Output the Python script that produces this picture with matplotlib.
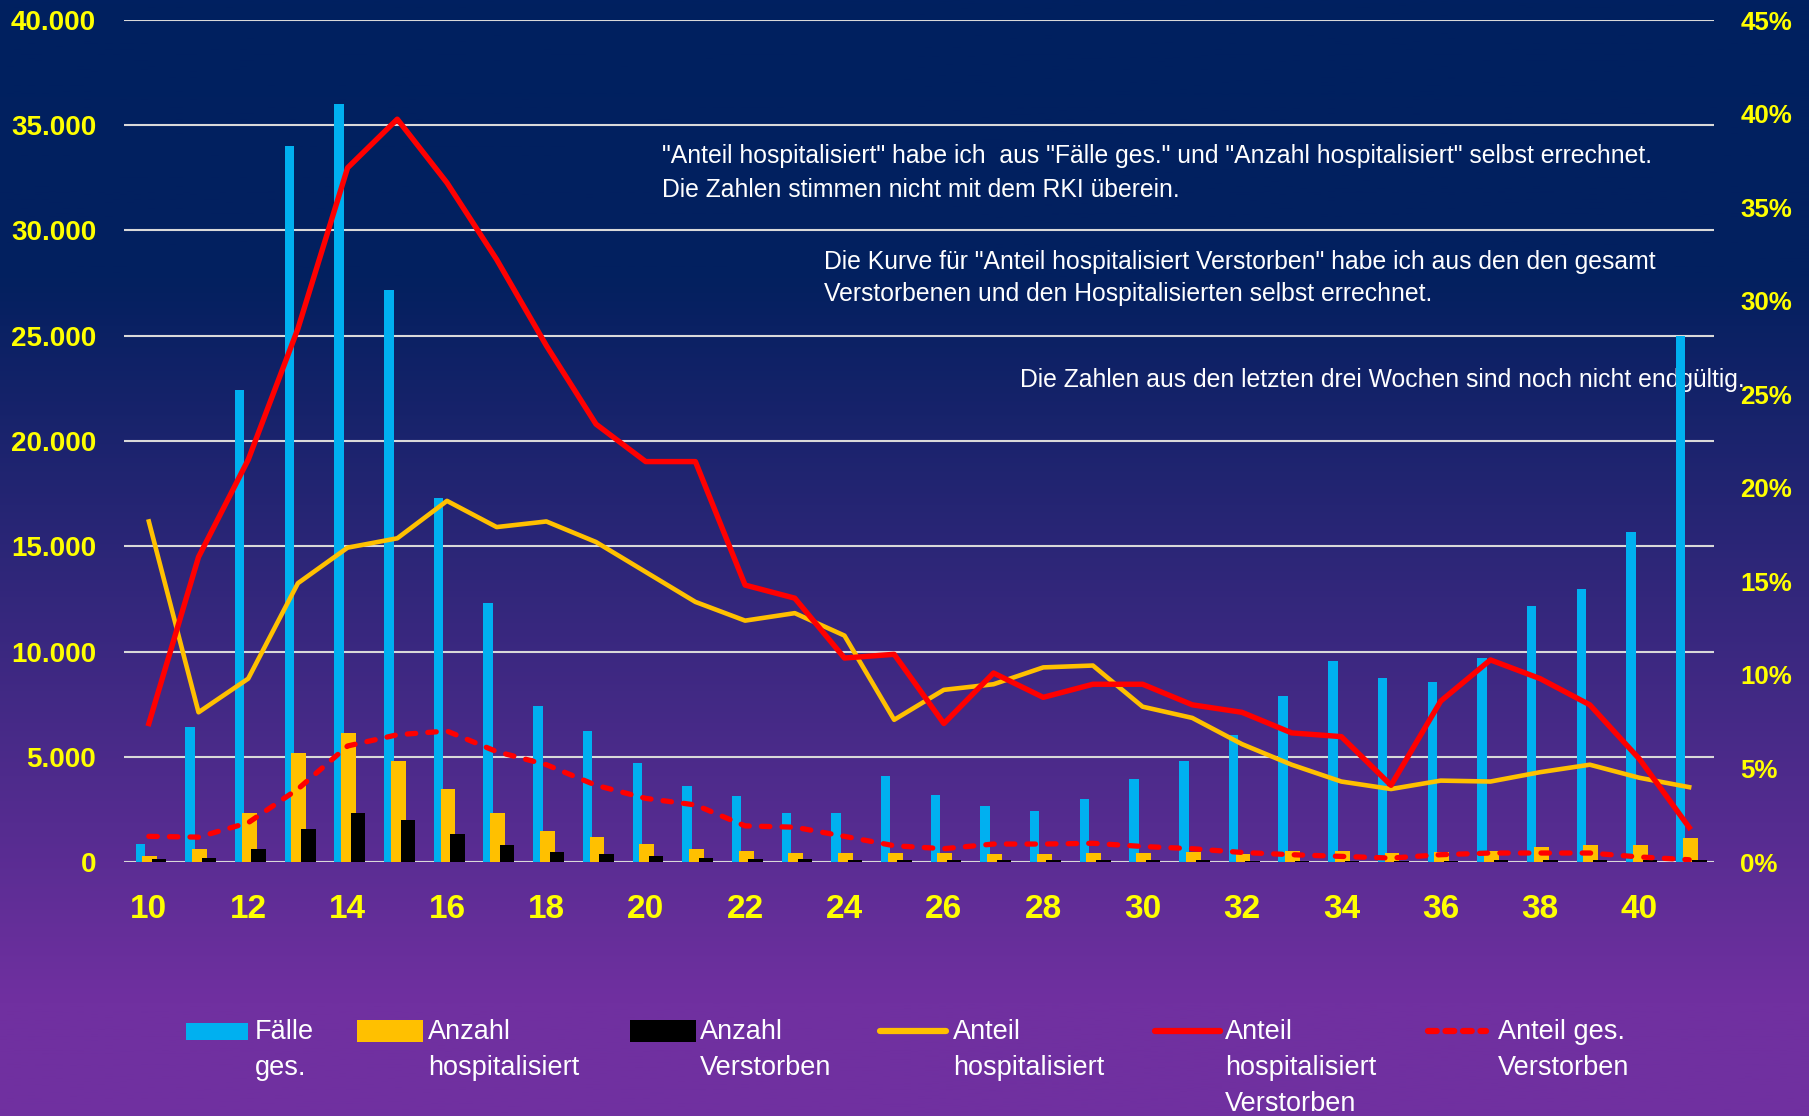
import numpy as np
import matplotlib
matplotlib.use("Agg")
import matplotlib.pyplot as plt
from matplotlib.ticker import FuncFormatter, MultipleLocator
from matplotlib.patches import Rectangle
from matplotlib.lines import Line2D
from matplotlib.colors import LinearSegmentedColormap

plt.rcParams['font.family'] = ['Liberation Sans', 'DejaVu Sans']

# Daten (Kalenderwochen)
wochen = [10, 11, 12, 13, 14, 15, 16, 17, 18, 19, 20, 21, 22, 23, 24, 25,
          26, 27, 28, 29, 30, 31, 32, 33, 34, 35, 36, 37, 38, 39, 40, 41]
faelle = [870, 6400, 22400, 34000, 36000, 27150, 17300, 12300, 7400, 6200, 4700, 3600,
          3150, 2350, 2320, 4070, 3170, 2670, 2410, 2980, 3930, 4800, 6010, 7900,
          9540, 8750, 8550, 9700, 12160, 12950, 15700, 25000]
hospitalisiert = [270, 630, 2320, 5200, 6150, 4800, 3450, 2320, 1470, 1180, 850, 630,
                  520, 430, 410, 430, 430, 380, 380, 430, 430, 470, 400, 520,
                  520, 450, 470, 540, 710, 790, 790, 1120]
verstorben = [140, 200, 600, 1560, 2350, 1990, 1320, 830, 490, 380, 270, 190,
              150, 130, 110, 100, 90, 80, 80, 90, 80, 80, 70, 70,
              70, 60, 70, 80, 90, 100, 100, 80]
anteil_hosp = [18.2, 8.0, 9.8, 14.9, 16.8, 17.3, 19.3, 17.9, 18.2, 17.1, 15.5, 13.9,
               12.9, 13.3, 12.1, 7.6, 9.2, 9.5, 10.4, 10.5, 8.3, 7.7, 6.3, 5.2,
               4.3, 3.9, 4.35, 4.3, 4.8, 5.2, 4.5, 4.0]
anteil_hosp_tot = [7.4, 16.3, 21.5, 28.5, 37.1, 39.7, 36.3, 32.2, 27.6, 23.4, 21.4, 21.4,
                   14.8, 14.1, 10.9, 11.1, 7.4, 10.1, 8.8, 9.5, 9.5, 8.4, 8.0, 6.9,
                   6.7, 4.1, 8.6, 10.8, 9.8, 8.4, 5.5, 1.85]
anteil_ges_tot = [1.37, 1.33, 2.1, 3.9, 6.2, 6.8, 7.0, 5.9, 5.2, 4.1, 3.4, 3.05,
                  1.93, 1.86, 1.37, 0.87, 0.71, 0.96, 0.96, 1.0, 0.83, 0.71, 0.51, 0.39,
                  0.3, 0.21, 0.39, 0.48, 0.48, 0.48, 0.27, 0.12]

BLAU = '#00B0F0'
GOLD = '#FFC000'
ROT = '#FF0000'
GELB = '#FFFF00'

W, H = 1809, 1116
fig = plt.figure(figsize=(W / 100, H / 100), dpi=100)


def px(x, y):
    # Pixel -> Figure-Koordinaten
    return x / W, 1 - y / H


# Hintergrund mit Farbverlauf (dunkelblau -> lila)
bg = fig.add_axes([0, 0, 1, 1], zorder=-2)
cmap = LinearSegmentedColormap.from_list(
    'verlauf', [(0.0, '#002060'), (0.25, '#03205F'), (0.9, '#7030A0'), (1.0, '#7030A0')])
bg.imshow(np.linspace(0, 1, 400).reshape(-1, 1), cmap=cmap, aspect='auto',
          extent=[0, 1, 0, 1], origin='upper')
bg.axis('off')

ax = fig.add_axes([124 / W, 1 - 862 / H, 1590 / W, 842 / H])
ax.patch.set_alpha(0)
x = np.array(wochen)

ax.bar(x - 0.17, faelle, width=0.19, color=BLAU, zorder=2)
ax.bar(x + 0.02, hospitalisiert, width=0.30, color=GOLD, zorder=3)
ax.bar(x + 0.21, verstorben, width=0.29, color='black', zorder=4)

ax.set_xlim(9.5, 41.5)
ax.set_ylim(0, 40000)
ax.yaxis.set_major_locator(MultipleLocator(5000))
ax.yaxis.set_major_formatter(FuncFormatter(lambda v, p: f"{int(v):,}".replace(",", ".")))
ax.set_xticks(wochen[::2])
ax.grid(axis='y', color='#D9D9D9', linewidth=1.5, zorder=1)
ax.set_axisbelow(True)
for s in ax.spines.values():
    s.set_visible(False)
ax.tick_params(axis='y', length=0, pad=20, labelsize=20, labelcolor=GELB)
ax.tick_params(axis='x', length=0, pad=23, labelsize=24, labelcolor=GELB)
for t in ax.get_xticklabels() + ax.get_yticklabels():
    t.set_fontweight('bold')

ax2 = ax.twinx()
ax2.patch.set_alpha(0)
ax2.plot(x, anteil_hosp, color=GOLD, lw=3.3, zorder=5)
ax2.plot(x, anteil_hosp_tot, color=ROT, lw=3.9, zorder=6)
ax2.plot(x, anteil_ges_tot, color=ROT, lw=3.8, dashes=(1.6, 2.3),
         dash_capstyle='round', zorder=6)
ax2.set_ylim(0, 45)
ax2.yaxis.set_major_locator(MultipleLocator(5))
ax2.yaxis.set_major_formatter(FuncFormatter(lambda v, p: f"{int(round(v))}%"))
for s in ax2.spines.values():
    s.set_visible(False)
ax2.tick_params(axis='y', length=0, pad=19, labelsize=18.6, labelcolor=GELB)
for t in ax2.get_yticklabels():
    t.set_fontweight('bold')

# Hinweistexte
hinweise = [
    (662, 163, '"Anteil hospitalisiert" habe ich  aus "Fälle ges." und "Anzahl hospitalisiert" selbst errechnet.'),
    (662, 197, 'Die Zahlen stimmen nicht mit dem RKI überein.'),
    (824, 269, 'Die Kurve für "Anteil hospitalisiert Verstorben" habe ich aus den den gesamt'),
    (824, 301, 'Verstorbenen und den Hospitalisierten selbst errechnet.'),
    (1020, 387, 'Die Zahlen aus den letzten drei Wochen sind noch nicht endgültig.'),
]
for hx, hy, txt in hinweise:
    fx, fy = px(hx, hy)
    fig.text(fx, fy, txt, color='white', fontsize=17.8, va='baseline', ha='left', zorder=-1)

# Legende (manuell, mehrzeilige Beschriftungen)
legende = [
    ('rect', BLAU, (186, 1023, 62, 17), 255, ['Fälle', 'ges.']),
    ('rect', GOLD, (357, 1020, 66, 22), 428, ['Anzahl', 'hospitalisiert']),
    ('rect', 'black', (630, 1020, 66, 22), 700, ['Anzahl', 'Verstorben']),
    ('line', GOLD, (880, 1031, 66, 0), 953, ['Anteil', 'hospitalisiert']),
    ('line', ROT, (1155, 1031, 65, 0), 1225, ['Anteil', 'hospitalisiert', 'Verstorben']),
    ('dash', ROT, (1428, 1031, 58, 0), 1498, ['Anteil ges.', 'Verstorben']),
]
for art, farbe, (lx, ly, lw_, lh), tx, zeilen in legende:
    if art == 'rect':
        x0, y0 = px(lx, ly + lh)
        fig.add_artist(Rectangle((x0, y0), lw_ / W, lh / H, transform=fig.transFigure,
                                 facecolor=farbe, edgecolor='none'))
    else:
        x0, y0 = px(lx, ly)
        x1, _ = px(lx + lw_, ly)
        if art == 'dash':
            fig.add_artist(Line2D([x0, x1], [y0, y0], transform=fig.transFigure,
                                  color=farbe, lw=4.5, dashes=(1.4, 1.4),
                                  dash_capstyle='round'))
        else:
            fig.add_artist(Line2D([x0, x1], [y0, y0], transform=fig.transFigure,
                                  color=farbe, lw=4.5, solid_capstyle='round'))
    for i, zeile in enumerate(zeilen):
        fx, fy = px(tx, 1039 + 36 * i)
        fig.text(fx, fy, zeile, color='white', fontsize=19.5, va='baseline', ha='left')

fig.savefig('out.png', dpi=100)
